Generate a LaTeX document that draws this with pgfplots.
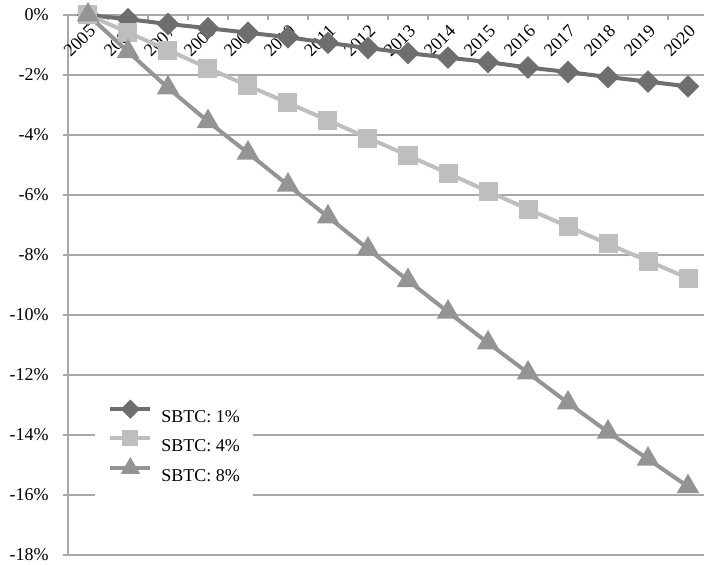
\documentclass[border=0pt]{standalone}
\usepackage{fontspec}
\setmainfont{Liberation Serif}
\usepackage{pgfplots}
\pgfplotsset{compat=1.18}
\definecolor{cone}{RGB}{110,110,112}
\definecolor{cfour}{RGB}{190,190,193}
\definecolor{ceight}{RGB}{148,148,150}
\definecolor{gridc}{RGB}{168,168,168}
\begin{document}
\fontsize{9}{10}\selectfont
\begin{tikzpicture}
\begin{axis}[
  scale only axis, width=318pt, height=270pt,
  xmin=-0.5, xmax=15.4, ymin=-18, ymax=0,
  clip=false,
  axis x line=top, axis y line=left,
  axis line style={gridc, line width=0.6pt, -},
  /pgf/number format/assume math mode=true,
  xtick={0,...,15},
  xticklabels={2005,2006,2007,2008,2009,2010,2011,2012,2013,2014,2015,2016,2017,2018,2019,2020},
  x tick label style={rotate=45, anchor=north east},
  minor xtick={-0.5,0.5,...,14.5},
  xtick align=inside,
  major x tick style={draw=none},
  minor x tick style={gridc, line width=0.6pt},
  minor tick length=2.5pt,
  ytick={-18,-16,...,0},
  ytick align=outside,
  major tick length=2.5pt,
  y tick style={gridc, line width=0.6pt},
  yticklabel={\pgfmathprintnumber{\tick}\%},
  yticklabel style={inner sep=0pt, xshift=-7pt},
  ymajorgrids,
  grid style={gridc, line width=0.6pt},
  legend style={at={(axis description cs:0.04245,0.3148)}, anchor=north west,
    draw=none, fill=white, inner xsep=6.5pt, inner ysep=8.5pt,
    row sep=5pt, column sep=4.5pt,
    nodes={inner sep=0pt, text height=6.5pt, text depth=0pt}},
  legend cell align=left,
  legend image code/.code={\draw[mark repeat=2, mark phase=2, every mark/.append style={scale=0.8}] plot coordinates {(0pt,3.2pt) (10pt,3.2pt) (20pt,3.2pt)};},
]
\addplot[cone, line width=2pt, mark=square*, mark size=3pt, mark options={rotate=45, solid, fill=cone, draw=cone}] coordinates {
(0,0) (1,-0.14) (2,-0.30) (3,-0.44) (4,-0.59) (5,-0.74) (6,-0.93) (7,-1.10)
(8,-1.27) (9,-1.42) (10,-1.57) (11,-1.75) (12,-1.90) (13,-2.07) (14,-2.22) (15,-2.38)};
\addlegendentry{SBTC: 1\%\hspace{5pt}}
\addplot[cfour, line width=2pt, mark=square*, mark size=3.75pt, mark options={solid, fill=cfour, draw=cfour}] coordinates {
(0,0) (1,-0.58) (2,-1.17) (3,-1.77) (4,-2.36) (5,-2.93) (6,-3.51) (7,-4.10)
(8,-4.68) (9,-5.28) (10,-5.88) (11,-6.47) (12,-7.05) (13,-7.63) (14,-8.20) (15,-8.77)};
\addlegendentry{SBTC: 4\%\hspace{5pt}}
\addplot[ceight, line width=2pt, mark=triangle*, mark size=4.5pt, mark options={solid, fill=ceight, draw=ceight}] coordinates {
(0,0) (1,-1.22) (2,-2.43) (3,-3.55) (4,-4.60) (5,-5.67) (6,-6.73) (7,-7.80)
(8,-8.85) (9,-9.90) (10,-10.93) (11,-11.93) (12,-12.93) (13,-13.90) (14,-14.80) (15,-15.72)};
\addlegendentry{SBTC: 8\%\hspace{5pt}}
\coordinate (bbl) at (axis description cs:-0.1069,-0.0185);
\coordinate (btr) at (axis description cs:1,1.0278);
\end{axis}
\pgfresetboundingbox
\path[use as bounding box] (bbl) rectangle (btr);
\end{tikzpicture}
\end{document}
